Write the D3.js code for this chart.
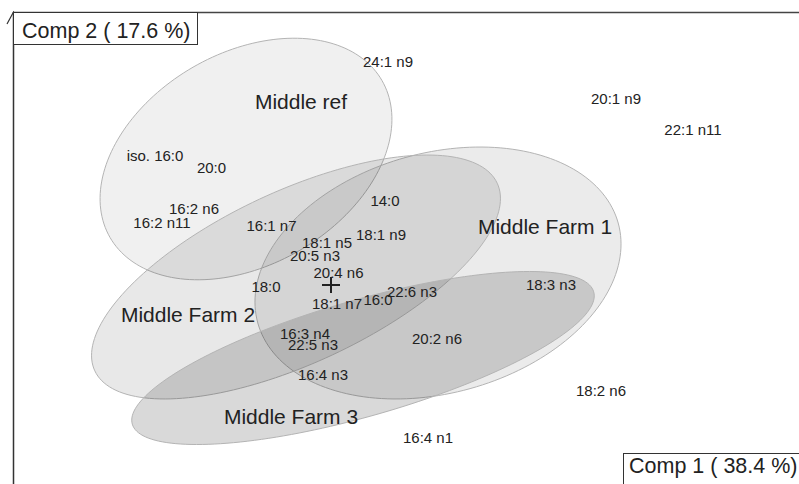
<!DOCTYPE html>
<html>
<head>
<meta charset="utf-8">
<script src="https://cdn.jsdelivr.net/npm/d3@7"></script>
<style>
  html, body { margin: 0; padding: 0; background: #fff; }
  svg { display: block; font-family: "Liberation Sans", Arial, Helvetica, sans-serif; }
</style>
</head>
<body>
<svg id="chart" width="799" height="484"></svg>
<script>
// Fatty-acid variables: label and scores on the first two components
const varLabels = ["24:1 n9", "20:1 n9", "22:1 n11", "iso. 16:0", "20:0", "16:2 n6", "16:2 n11",
  "16:1 n7", "14:0", "18:1 n9", "18:1 n5", "20:5 n3", "20:4 n6", "18:0", "18:1 n7", "16:0",
  "22:6 n3", "18:3 n3", "16:3 n4", "22:5 n3", "20:2 n6", "16:4 n3", "18:2 n6", "16:4 n1"];
const comp1 = [0.57, 2.85, 3.62, -1.76, -1.195, -1.37, -1.69,
  -0.595, 0.54, 0.50, -0.04, -0.16, 0.075, -0.65, 0.06, 0.47,
  0.81, 2.20, -0.26, -0.18, 1.06, -0.08, 2.70, 0.97];
const comp2 = [2.23, 1.86, 1.55, 1.29, 1.175, 0.76, 0.62,
  0.59, 0.845, 0.505, 0.425, 0.29, 0.12, -0.02, -0.19, -0.15,
  -0.07, 0.00, -0.49, -0.60, -0.54, -0.90, -1.055, -1.53];

// Groups: ellipse centre, semi-axes and orientation (degrees), and label anchor
const groups = ["Middle ref", "Middle Farm 1", "Middle Farm 2", "Middle Farm 3"];
const ellCx = [-0.85, 1.07, -0.35, 0.32];
const ellCy = [1.26, 0.12, 0.08, -0.73];
const ellA = [1.57, 1.87, 2.22, 2.40];
const ellB = [1.06, 1.20, 0.86, 0.58];
const ellAngle = [30, 15.5, 25, 16];
const groupLabelX = [-0.30, 2.14, -1.43, -0.40];
const groupLabelY = [1.84, 0.59, -0.29, -1.31];

const axisTitles = ["Comp 1 ( 38.4 %)", "Comp 2 ( 17.6 %)"];

const svg = d3.select("#chart");
const W = 799, H = 484;

const x = d3.scaleLinear().domain([-3.18, 4.68]).range([13, 799]);
const y = d3.scaleLinear().domain([2.72, -1.99]).range([13, 484]);

// Ellipses
const ellFill = ["rgba(0,0,0,0.06)", "rgba(0,0,0,0.08)", "rgba(0,0,0,0.09)", "rgba(0,0,0,0.15)"];
const line = d3.line().x(d => x(d[0])).y(d => y(d[1])).curve(d3.curveLinearClosed);
const steps = d3.range(0, 360, 2).map(t => t * Math.PI / 180);
groups.forEach((g, i) => {
  const th = ellAngle[i] * Math.PI / 180;
  const pts = steps.map(t => [
    ellCx[i] + ellA[i] * Math.cos(th) * Math.cos(t) - ellB[i] * Math.sin(th) * Math.sin(t),
    ellCy[i] + ellA[i] * Math.sin(th) * Math.cos(t) + ellB[i] * Math.cos(th) * Math.sin(t)
  ]);
  svg.append("path")
    .attr("d", line(pts))
    .attr("fill", ellFill[i])
    .attr("stroke", "#b4b4b4")
    .attr("stroke-width", 1);
});

// Axes frame: vertical axis with arrow and top horizontal line
svg.append("line").attr("x1", 13.5).attr("x2", 13.5).attr("y1", 12).attr("y2", H)
  .attr("stroke", "#333").attr("stroke-width", 1.5);
svg.append("line").attr("x1", 13).attr("x2", W).attr("y1", 12.5).attr("y2", 12.5)
  .attr("stroke", "#444").attr("stroke-width", 1.5);
svg.append("path").attr("d", "M7,24 L13.5,12 L20,24")
  .attr("fill", "none").attr("stroke", "#333").attr("stroke-width", 1.2);

// Origin cross
svg.append("path")
  .attr("d", `M${x(0) - 9},${y(0)} H${x(0) + 9} M${x(0)},${y(0) - 8} V${y(0) + 8}`)
  .attr("stroke", "#222").attr("stroke-width", 2);

// Variable labels
svg.append("g").selectAll("text").data(varLabels).join("text")
  .attr("x", (d, i) => x(comp1[i]))
  .attr("y", (d, i) => y(comp2[i]))
  .attr("dy", "0.36em")
  .attr("text-anchor", "middle")
  .attr("font-size", 15)
  .attr("fill", "#222")
  .text(d => d);

// Group labels
svg.append("g").selectAll("text").data(groups).join("text")
  .attr("x", (d, i) => x(groupLabelX[i]))
  .attr("y", (d, i) => y(groupLabelY[i]))
  .attr("dy", "0.36em")
  .attr("text-anchor", "middle")
  .attr("font-size", 21)
  .attr("fill", "#222")
  .text(d => d);

// Axis title boxes
const t2 = svg.append("g");
t2.append("rect").attr("x", 13.5).attr("y", 12.5).attr("width", 184).attr("height", 32)
  .attr("fill", "#fff").attr("stroke", "#333").attr("stroke-width", 1);
t2.append("text").attr("x", 22).attr("y", 37.5).attr("font-size", 21.5).attr("fill", "#222")
  .text(axisTitles[1]);

const t1 = svg.append("g");
t1.append("rect").attr("x", 623.5).attr("y", 453.5).attr("width", 190).attr("height", 40)
  .attr("fill", "#fff").attr("stroke", "#333").attr("stroke-width", 1);
t1.append("text").attr("x", 629).attr("y", 472.5).attr("font-size", 21.5).attr("fill", "#222")
  .text(axisTitles[0]);
</script>
</body>
</html>
